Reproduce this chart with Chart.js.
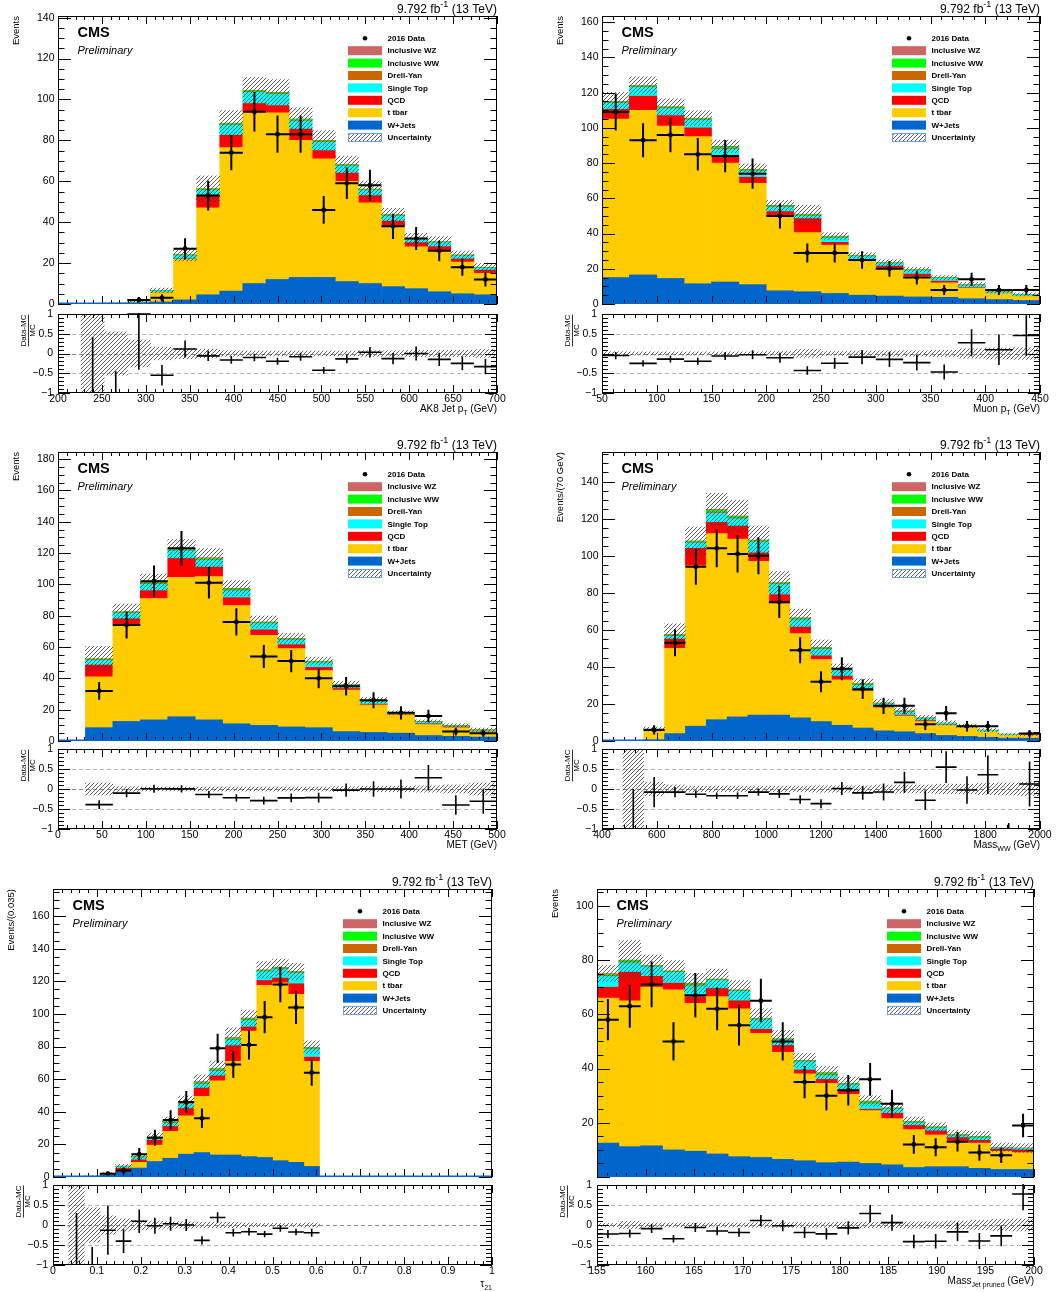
<!DOCTYPE html>
<html>
<head>
<meta charset="utf-8">
<title>CMS 2016 control distributions</title>
<script src="https://cdn.jsdelivr.net/npm/chart.js@4.4.1/dist/chart.umd.min.js"></script>
<style>
  html, body { margin: 0; padding: 0; background: #ffffff; }
  body { position: relative; width: 1057px; height: 1292px; overflow: hidden; }
  canvas { position: absolute; }
</style>
</head>
<body>
<script>
// ---------------------------------------------------------------------------
// Stacked MC components (events per bin), data counts and relative MC
// uncertainty for each distribution.
// ---------------------------------------------------------------------------

// AK8 jet pT: 19 bins, 200-700 GeV
const ak8WJets     = [0, 0, 0.05, 0.3, 1.0, 2.0, 4.5, 6.3, 10, 12, 13, 13, 11, 10, 8.5, 7.5, 6, 5, 4.5];
const ak8TTbar     = [0, 0.1, 0.3, 0.45, 4.6, 19.8, 42.5, 70.2, 84, 81.5, 67, 58, 49, 39.5, 29.5, 20.5, 20, 15.5, 10.5];
const ak8QCD       = [0, 0, 0, 0, 0.1, 0.2, 6, 6, 4, 3.5, 5.5, 4, 4, 3.5, 2.5, 2, 2, 1.5, 1.5];
const ak8SingleTop = [0, 0, 0.05, 0.15, 0.7, 1.6, 2.5, 5, 5.5, 5.5, 4, 4, 3.5, 2.5, 2.5, 1.5, 2, 1.5, 1];
const ak8DrellYan  = [0, 0, 0, 0, 0.05, 0.1, 0.2, 0.2, 0.3, 0.3, 0.3, 0.3, 0.2, 0.2, 0.2, 0.1, 0.1, 0.1, 0.1];
const ak8WW        = [0, 0, 0, 0.08, 0.2, 0.4, 0.5, 0.5, 0.5, 0.5, 0.5, 0.5, 0.4, 0.4, 0.4, 0.3, 0.3, 0.3, 0.3];
const ak8WZ        = [0, 0, 0, 0.02, 0.05, 0.1, 0.2, 0.2, 0.2, 0.2, 0.2, 0.2, 0.1, 0.1, 0.1, 0.1, 0.1, 0.1, 0.1];
const ak8Data      = [0, 0, 0, 2, 3, 27, 53, 74, 94, 83, 83, 46, 59, 58, 38, 32, 26, 18, 12];
const ak8Unc       = [0, 1.5, 0.55, 0.34, 0.16, 0.13, 0.11, 0.07, 0.06, 0.06, 0.06, 0.06, 0.06, 0.07, 0.07, 0.08, 0.08, 0.08, 0.1];
const ak8EmptyBinErr = {1: 1.42, 2: 0.55};

// Muon pT: 16 bins, 50-450 GeV
const muWJets     = [15, 16.5, 14.5, 11.5, 12.5, 11, 7.5, 7, 6, 5, 4.5, 4, 3.8, 3, 2.5, 2];
const muTTbar     = [90, 93.5, 86.5, 83.5, 67.5, 57.5, 42.5, 33.5, 27.5, 19.5, 15.5, 11.5, 8.2, 6, 3.5, 2.3];
const muQCD       = [5.5, 8, 6, 5, 4, 3.5, 2.5, 8, 1.5, 0.5, 1.5, 1.5, 1, 0.3, 0.1, 0.1];
const muSingleTop = [3.5, 5, 4, 4.5, 4, 3.5, 2.5, 1.5, 2.5, 2, 1.5, 2, 1.5, 1.2, 0.8, 0.8];
const muDrellYan  = [0.3, 0.3, 0.3, 0.3, 0.4, 0.3, 0.3, 0.3, 0.3, 0.1, 0.1, 0.1, 0.1, 0.1, 0.1, 0.05];
const muWW        = [0.5, 0.5, 0.5, 0.5, 0.8, 0.5, 0.5, 0.5, 0.5, 0.3, 0.3, 0.3, 0.3, 0.3, 0.2, 0.2];
const muWZ        = [0.2, 0.2, 0.2, 0.2, 0.3, 0.2, 0.2, 0.2, 0.2, 0.1, 0.1, 0.1, 0.1, 0.1, 0.1, 0.05];
const muData      = [109, 93, 96, 85, 84, 74, 50, 29, 29, 25, 20, 15, 8, 14, 8, 8];
const muUnc       = [0.045, 0.04, 0.04, 0.04, 0.04, 0.04, 0.05, 0.1, 0.05, 0.06, 0.07, 0.07, 0.08, 0.12, 0.14, 0.15];
const muEmptyBinErr = {};

// MET: 16 bins, 0-500 GeV
const metWJets     = [0, 8.5, 12.5, 13.5, 15.5, 13.5, 11, 10, 9, 8.5, 6, 5.5, 5, 3.5, 3, 2.5];
const metTTbar     = [0, 32.5, 61.5, 77.5, 89, 91.5, 75.5, 57.5, 50, 36.5, 26.5, 17.5, 11.7, 7, 5.5, 3.5];
const metQCD       = [0, 7.5, 4, 5, 12, 6, 5, 3.5, 2.5, 2, 1, 0.5, 0.3, 0.5, 0.5, 0.3];
const metSingleTop = [0, 3, 3.5, 4, 5, 4.5, 4.5, 4, 3, 3, 1.5, 1.5, 0.6, 1, 0.5, 0.5];
const metDrellYan  = [0, 0.3, 0.3, 0.4, 0.3, 0.4, 0.4, 0.3, 0.3, 0.3, 0.3, 0.3, 0.1, 0.1, 0.1, 0.1];
const metWW        = [0, 0.5, 0.5, 0.8, 0.5, 0.8, 0.8, 0.5, 0.5, 0.5, 0.5, 0.5, 0.2, 0.3, 0.3, 0.2];
const metWZ        = [0, 0.2, 0.2, 0.3, 0.2, 0.3, 0.3, 0.2, 0.2, 0.2, 0.2, 0.2, 0.1, 0.1, 0.1, 0.1];
const metData      = [0, 32, 74, 102, 123, 101, 76, 54, 51, 40, 35, 26, 18, 16, 6, 5];
const metUnc       = [0, 0.15, 0.06, 0.05, 0.05, 0.05, 0.05, 0.05, 0.05, 0.05, 0.06, 0.07, 0.07, 0.08, 0.1, 0.15];
const metEmptyBinErr = {};

// WW invariant mass: 21 bins, 400-2000 GeV
const mwwWJets     = [0, 0, 0.5, 4, 8, 11.5, 13, 14, 14, 12.5, 10.5, 8.5, 7, 5.5, 5, 4, 3, 2.5, 2, 1.5, 1.5];
const mwwTTbar     = [0, 0.05, 5, 46, 86.5, 100.5, 96, 83, 60, 45.5, 33.5, 24.5, 20, 12.5, 8.5, 6.5, 5.5, 5, 3, 1.5, 1.7];
const mwwQCD       = [0, 0, 0, 5, 9.5, 6, 7, 4.5, 5, 3.5, 2, 2, 0.5, 0.5, 0.5, 0.5, 0.2, 0.1, 0, 0, 0.3];
const mwwSingleTop = [0, 0, 0.6, 1.5, 3, 5, 4, 6, 5.5, 4, 3.5, 3, 2.5, 1.5, 1.5, 1, 0.8, 0.4, 0.7, 0.5, 0.05];
const mwwDrellYan  = [0, 0, 0.1, 0.3, 0.3, 0.5, 0.4, 0.3, 0.3, 0.3, 0.3, 0.1, 0.3, 0.1, 0.2, 0.1, 0.05, 0.05, 0.05, 0.05, 0];
const mwwWW        = [0, 0, 0.2, 0.5, 0.5, 1.1, 0.8, 0.5, 0.5, 0.5, 0.5, 0.3, 0.5, 0.3, 0.4, 0.3, 0.1, 0.1, 0.1, 0.1, 0];
const mwwWZ        = [0, 0, 0.1, 0.2, 0.2, 0.4, 0.3, 0.2, 0.2, 0.2, 0.2, 0.1, 0.2, 0.1, 0.2, 0.1, 0.05, 0.05, 0.05, 0.05, 0];
const mwwData      = [0, 0, 6, 53, 94, 104, 101, 100, 75, 49, 32, 39, 28, 19, 19, 9, 15, 8, 8, 0, 4];
const mwwUnc       = [0, 1.5, 0.17, 0.1, 0.07, 0.07, 0.07, 0.07, 0.07, 0.07, 0.08, 0.08, 0.08, 0.1, 0.1, 0.1, 0.12, 0.12, 0.14, 0.15, 0.17];
const mwwEmptyBinErr = {1: 1.0, 19: 0.15};

// tau21: 28 bins, 0-1
const tauWJets     = [0, 0, 0.4, 1, 3.5, 5.5, 9.5, 11.5, 14, 15, 13.5, 13.5, 12.5, 12, 10, 9, 6.5, 0, 0, 0, 0, 0, 0, 0, 0, 0, 0, 0];
const tauTTbar     = [0, 0.05, 0.2, 0.5, 0.5, 3.5, 10, 16.5, 23.5, 34.5, 45.5, 57.5, 77, 105.5, 109, 103, 64.5, 0, 0, 0, 0, 0, 0, 0, 0, 0, 0, 0];
const tauQCD       = [0, 0, 0, 0.5, 1.3, 1.5, 3, 3, 4.5, 5, 3, 9.5, 2.5, 3, 3, 6.5, 2.5, 0, 0, 0, 0, 0, 0, 0, 0, 0, 0, 0];
const tauSingleTop = [0, 0, 0, 0.2, 1, 1.5, 1.5, 2, 2.5, 2.5, 3, 3.5, 4, 5.5, 5.5, 6.5, 5, 0, 0, 0, 0, 0, 0, 0, 0, 0, 0, 0];
const tauDrellYan  = [0, 0, 0, 0, 0.1, 0.2, 0.1, 0.3, 0.4, 0.4, 0.4, 0.4, 0.4, 0.3, 0.3, 0.3, 0.3, 0, 0, 0, 0, 0, 0, 0, 0, 0, 0, 0];
const tauWW        = [0, 0, 0, 0.1, 0.2, 0.4, 0.3, 0.5, 0.8, 0.8, 0.8, 0.8, 0.8, 0.5, 0.5, 0.5, 0.5, 0, 0, 0, 0, 0, 0, 0, 0, 0, 0, 0];
const tauWZ        = [0, 0, 0, 0, 0.1, 0.2, 0.1, 0.2, 0.3, 0.3, 0.3, 0.3, 0.3, 0.2, 0.2, 0.2, 0.2, 0, 0, 0, 0, 0, 0, 0, 0, 0, 0, 0];
const tauData      = [0, 0, 0, 2, 4, 14, 24, 35, 46, 36, 79, 69, 81, 98, 118, 104, 64, 0, 0, 0, 0, 0, 0, 0, 0, 0, 0, 0];
const tauUnc       = [0, 1.5, 0.43, 0.23, 0.15, 0.12, 0.1, 0.08, 0.08, 0.07, 0.07, 0.07, 0.05, 0.04, 0.04, 0.04, 0.05, 0, 0, 0, 0, 0, 0, 0, 0, 0, 0, 0];
const tauEmptyBinErr = {1: 1.3, 2: 0.45};

// Pruned jet mass: 20 bins, 155-200 GeV
const mjWJets     = [12.5, 11.2, 11.5, 10, 9.5, 8.5, 7.5, 7.2, 6.5, 6, 5.3, 5.5, 5, 4.5, 3.5, 3.8, 3.8, 3.2, 2.8, 2.8];
const mjTTbar     = [53.5, 53.8, 58.5, 59, 54.5, 58, 54.5, 45.8, 39.5, 32, 29.2, 25, 19.5, 17, 14, 11.7, 9.2, 9.3, 6.7, 6.2];
const mjQCD       = [4, 10.5, 4, 2.5, 2.5, 3, 3, 1.5, 2.5, 1.5, 1.5, 1.5, 0.5, 2, 1.5, 1.5, 1.5, 1, 0.8, 1];
const mjSingleTop = [4, 3.5, 3.5, 4, 4, 3, 3.5, 3.5, 2, 3, 1.5, 2, 2, 1.5, 1, 1, 0.7, 1, 0.5, 0.5];
const mjDrellYan  = [0.3, 0.3, 0.1, 0.1, 0.3, 0.1, 0.1, 0.1, 0.1, 0.1, 0.2, 0.1, 0.2, 0.1, 0.1, 0.1, 0.1, 0.1, 0.05, 0.05];
const mjWW        = [0.5, 0.5, 0.3, 0.3, 0.5, 0.3, 0.3, 0.3, 0.3, 0.3, 0.6, 0.3, 0.6, 0.3, 0.3, 0.3, 0.3, 0.3, 0.1, 0.1];
const mjWZ        = [0.2, 0.2, 0.1, 0.1, 0.2, 0.1, 0.1, 0.1, 0.1, 0.1, 0.2, 0.1, 0.2, 0.1, 0.1, 0.1, 0.1, 0.1, 0.05, 0.05];
const mjData      = [58, 63, 71, 50, 67, 62, 56, 65, 50, 35, 30, 32, 36, 27, 12, 11, 13, 9, 8, 19];
const mjUnc       = [0.04, 0.09, 0.05, 0.05, 0.05, 0.05, 0.05, 0.06, 0.06, 0.06, 0.06, 0.07, 0.07, 0.07, 0.08, 0.08, 0.1, 0.12, 0.14, 0.15];
const mjEmptyBinErr = {};

// Process names and fill colours, bottom of the stack first
const componentNames  = ['W+Jets', 't tbar', 'QCD', 'Single Top', 'Drell-Yan', 'Inclusive WW', 'Inclusive WZ'];
const componentColors = ['#0066cc', '#ffcc00', '#ff0000', '#00ffff', '#cc6600', '#00ff00', '#cc6666'];
const dataLabel = '2016 Data';
const uncLabel = 'Uncertainty';
const lumiParts = [['9.792 fb', 0], ['-1', 2], [' (13 TeV)', 0]];
const ratioTickValues = [-1, -0.5, 0, 0.5, 1];

// ---------------------------------------------------------------------------
// Panel layout
// ---------------------------------------------------------------------------
const FONT = "'Liberation Sans', Arial, Helvetica, sans-serif";
Chart.defaults.font.family = FONT;
Chart.defaults.color = '#000';

const panels = [
  { key: 'ak8', frame: {l: 58, r: 497, t: 16, b: 304}, ratioFrame: {t: 314, b: 393},
    range: [200, 700], nBins: 19, yMax: 140.8, xMajor: 50, xMinor: 10,
    yTitle: 'Events', xTitle: [['AK8 Jet p', 0], ['T', 1], [' (GeV)', 0]], xTitleDy: 18.5, xTitleSize: 10,
    comp: [ak8WJets, ak8TTbar, ak8QCD, ak8SingleTop, ak8DrellYan, ak8WW, ak8WZ],
    data: ak8Data, unc: ak8Unc, emptyErr: ak8EmptyBinErr, hideZero: false },
  { key: 'mu', frame: {l: 602, r: 1040, t: 16, b: 304}, ratioFrame: {t: 314, b: 393},
    range: [50, 450], nBins: 16, yMax: 163.5, xMajor: 50, xMinor: 10,
    yTitle: 'Events', xTitle: [['Muon p', 0], ['T', 1], [' (GeV)', 0]], xTitleDy: 18.5, xTitleSize: 10,
    comp: [muWJets, muTTbar, muQCD, muSingleTop, muDrellYan, muWW, muWZ],
    data: muData, unc: muUnc, emptyErr: muEmptyBinErr, hideZero: false },
  { key: 'met', frame: {l: 58, r: 497, t: 452, b: 741}, ratioFrame: {t: 749, b: 829},
    range: [0, 500], nBins: 16, yMax: 184.5, xMajor: 50, xMinor: 10,
    yTitle: 'Events', xTitle: [['MET (GeV)', 0]], xTitleDy: 18.5, xTitleSize: 10,
    comp: [metWJets, metTTbar, metQCD, metSingleTop, metDrellYan, metWW, metWZ],
    data: metData, unc: metUnc, emptyErr: metEmptyBinErr, hideZero: false },
  { key: 'mww', frame: {l: 602, r: 1040, t: 452, b: 741}, ratioFrame: {t: 749, b: 829},
    range: [400, 2000], nBins: 21, yMax: 156.0, xMajor: 200, xMinor: 40,
    yTitle: 'Events/(70 GeV)', xTitle: [['Mass', 0], ['WW', 1], [' (GeV)', 0]], xTitleDy: 18.5, xTitleSize: 10,
    comp: [mwwWJets, mwwTTbar, mwwQCD, mwwSingleTop, mwwDrellYan, mwwWW, mwwWZ],
    data: mwwData, unc: mwwUnc, emptyErr: mwwEmptyBinErr, hideZero: false },
  { key: 'tau', frame: {l: 53, r: 492, t: 889, b: 1177}, ratioFrame: {t: 1185, b: 1265},
    range: [0, 1], nBins: 28, yMax: 176.6, xMajor: 0.1, xMinor: 0.02,
    yTitle: 'Events/(0.035)', xTitle: [['\u03c4', 0], ['21', 1]], xTitleDy: 22, xTitleSize: 10,
    comp: [tauWJets, tauTTbar, tauQCD, tauSingleTop, tauDrellYan, tauWW, tauWZ],
    data: tauData, unc: tauUnc, emptyErr: tauEmptyBinErr, hideZero: false },
  { key: 'mj', frame: {l: 597, r: 1034, t: 889, b: 1177}, ratioFrame: {t: 1185, b: 1265},
    range: [155, 200], nBins: 20, yMax: 106.2, xMajor: 5, xMinor: 1,
    yTitle: 'Events', xTitle: [['Mass', 0], ['Jet pruned', 1], [' (GeV)', 0]], xTitleDy: 18.5, xTitleSize: 10,
    comp: [mjWJets, mjTTbar, mjQCD, mjSingleTop, mjDrellYan, mjWW, mjWZ],
    data: mjData, unc: mjUnc, emptyErr: mjEmptyBinErr, hideZero: true }
];

const PAD_L = 62, PAD_R = 14;
const Y_AXIS_W = 40;       // room for the y tick labels, left of the frame
const X_AXIS_H = 16;       // room for the x tick labels, below the ratio frame
const MAIN_PAD_T = 20, MAIN_PAD_B = 12;
const RATIO_PAD_T = 12, RATIO_PAD_B = 34;

// ---------------------------------------------------------------------------
// Helpers
// ---------------------------------------------------------------------------
function derive(p) {
  const w = (p.range[1] - p.range[0]) / p.nBins;
  const edges = [], centers = [], totals = [];
  for (let i = 0; i <= p.nBins; i++) edges.push(p.range[0] + i * w);
  for (let i = 0; i < p.nBins; i++) {
    centers.push(p.range[0] + (i + 0.5) * w);
    totals.push(p.comp.reduce((s, arr) => s + arr[i], 0));
  }
  return {edges, centers, totals};
}

function tickList(min, max, minor, major) {
  const out = [];
  const n = Math.round((max - min) / minor);
  for (let k = 0; k <= n; k++) {
    const v = min + k * minor;
    if (v > max + 1e-9) break;
    const r = v / major;
    out.push([v, Math.abs(r - Math.round(r)) < 1e-6]);
  }
  return out;
}

function fmt(v) { return String(Math.round(v * 1000) / 1000); }

function makeCanvas(x, y, w, h) {
  const c = document.createElement('canvas');
  c.width = w; c.height = h;
  c.style.left = x + 'px'; c.style.top = y + 'px';
  c.style.width = w + 'px'; c.style.height = h + 'px';
  document.body.appendChild(c);
  return c;
}

function makeHatch(ctx) {
  const t = document.createElement('canvas');
  t.width = 4; t.height = 4;
  const g = t.getContext('2d');
  g.strokeStyle = 'rgba(60,60,60,0.9)';
  g.lineWidth = 0.9;
  g.beginPath();
  g.moveTo(0, 4); g.lineTo(4, 0);
  g.moveTo(-1, 1); g.lineTo(1, -1);
  g.moveTo(3, 5); g.lineTo(5, 3);
  g.stroke();
  return ctx.createPattern(t, 'repeat');
}

// text with optional sub/superscript pieces: [text, 0 normal | 1 sub | 2 sup]
function drawRich(ctx, parts, x, y, align, size) {
  const fontFor = k => (k ? Math.round(size * 0.72) : size) + 'px ' + FONT;
  let total = 0;
  for (const [t, k] of parts) { ctx.font = fontFor(k); total += ctx.measureText(t).width; }
  let cx = align === 'right' ? x - total : x;
  ctx.textAlign = 'left';
  ctx.textBaseline = 'alphabetic';
  for (const [t, k] of parts) {
    ctx.font = fontFor(k);
    const dy = k === 1 ? size * 0.3 : (k === 2 ? -size * 0.42 : 0);
    ctx.fillText(t, cx, y + dy);
    cx += ctx.measureText(t).width;
  }
}

function drawFrameTicks(chart, xTicks, yTicks, xLen, yLen) {
  const {ctx, chartArea: a} = chart;
  const sx = chart.scales.x, sy = chart.scales.y;
  ctx.save();
  ctx.strokeStyle = '#000';
  ctx.lineWidth = 1;
  ctx.beginPath();
  for (const [v, major] of xTicks) {
    const x = Math.round(sx.getPixelForValue(v)) + 0.5;
    const l = major ? xLen[0] : xLen[1];
    ctx.moveTo(x, a.bottom); ctx.lineTo(x, a.bottom - l);
    ctx.moveTo(x, a.top); ctx.lineTo(x, a.top + l);
  }
  for (const [v, major] of yTicks) {
    const y = Math.round(sy.getPixelForValue(v)) + 0.5;
    const l = major ? yLen[0] : yLen[1];
    ctx.moveTo(a.left, y); ctx.lineTo(a.left + l, y);
    ctx.moveTo(a.right, y); ctx.lineTo(a.right - l, y);
  }
  ctx.stroke();
  ctx.strokeRect(a.left + 0.5, a.top + 0.5, a.right - a.left - 1, a.bottom - a.top - 1);
  ctx.restore();
}

function drawLegend(ctx, a, hatch) {
  const x0 = a.left + 290, tx = a.left + 329.5;
  const rows = [[dataLabel, 'marker']];
  for (let k = componentNames.length - 1; k >= 0; k--) rows.push([componentNames[k], componentColors[k]]);
  rows.push([uncLabel, 'hatch']);
  ctx.save();
  ctx.font = 'bold 8px ' + FONT;
  ctx.textAlign = 'left';
  ctx.textBaseline = 'middle';
  rows.forEach(([label, kind], i) => {
    const yc = a.top + 22.3 + i * 12.4;
    if (kind === 'marker') {
      ctx.fillStyle = '#000';
      ctx.beginPath(); ctx.arc(x0 + 17, yc, 2.3, 0, 2 * Math.PI); ctx.fill();
    } else if (kind === 'hatch') {
      ctx.fillStyle = hatch;
      ctx.fillRect(x0, yc - 4.5, 34, 9);
      ctx.strokeStyle = '#6f9fd8'; ctx.lineWidth = 1;
      ctx.strokeRect(x0 + 0.5, yc - 4, 33, 8);
    } else {
      ctx.fillStyle = kind;
      ctx.fillRect(x0, yc - 4.5, 34, 9);
    }
    ctx.fillStyle = '#000';
    ctx.fillText(label, tx, yc + 0.5);
  });
  ctx.restore();
}

// ---------------------------------------------------------------------------
// Main (stacked histogram) panel
// ---------------------------------------------------------------------------
function buildMain(p, g) {
  const f = p.frame;
  const canvas = makeCanvas(f.l - PAD_L, f.t - MAIN_PAD_T, f.r - f.l + PAD_L + PAD_R, f.b - f.t + MAIN_PAD_T + MAIN_PAD_B);
  const ctx = canvas.getContext('2d');
  const hatch = makeHatch(ctx);
  const xTicks = tickList(p.range[0], p.range[1], p.xMinor, p.xMajor);
  const yTicks = tickList(0, p.yMax, 5, 20);
  const yMajors = yTicks.filter(t => t[1]).map(t => t[0]);
  const xMajors = xTicks.filter(t => t[1]).map(t => t[0]);

  const datasets = p.comp.map((arr, k) => ({
    type: 'bar',
    label: componentNames[k],
    data: g.centers.map((c, i) => ({x: c, y: arr[i] > 0 ? arr[i] : null})),
    backgroundColor: componentColors[k],
    borderWidth: 0,
    barPercentage: 1, categoryPercentage: 1,
    stack: 'mc', yAxisID: 'y', order: 2
  }));
  datasets.push({
    type: 'bar',
    label: uncLabel,
    data: g.centers.map((c, i) => ({x: c, y: (g.totals[i] > 0 && p.unc[i] > 0)
      ? [g.totals[i] * (1 - p.unc[i]), g.totals[i] * (1 + p.unc[i])] : null})),
    backgroundColor: hatch,
    borderWidth: 0,
    barPercentage: 1, categoryPercentage: 1,
    stack: 'mc', yAxisID: 'yu', order: 1
  });
  datasets.push({
    type: 'line',
    label: dataLabel,
    data: g.centers.map((c, i) => ({x: c, y: p.data[i]})).filter(pt => pt.y > 0),
    showLine: false,
    pointRadius: 2.4, pointHoverRadius: 2.4,
    pointBackgroundColor: '#000', pointBorderWidth: 0,
    yAxisID: 'yu', order: 0
  });

  const decor = {
    id: 'mainDecor',
    afterDatasetsDraw(chart) {
      const {ctx, chartArea: a} = chart;
      const sx = chart.scales.x, sy = chart.scales.yu;
      ctx.save();
      ctx.beginPath(); ctx.rect(a.left, a.top, a.right - a.left, a.bottom - a.top); ctx.clip();
      ctx.strokeStyle = '#000'; ctx.lineWidth = 2;
      p.data.forEach((d, i) => {
        if (!(d > 0)) return;
        const e = Math.sqrt(d);
        const y = sy.getPixelForValue(d);
        const xc = sx.getPixelForValue(g.centers[i]);
        ctx.beginPath();
        ctx.moveTo(sx.getPixelForValue(g.edges[i]), y);
        ctx.lineTo(sx.getPixelForValue(g.edges[i + 1]), y);
        ctx.moveTo(xc, sy.getPixelForValue(d - e));
        ctx.lineTo(xc, sy.getPixelForValue(d + e));
        ctx.stroke();
      });
      ctx.restore();
    },
    afterDraw(chart) {
      const {ctx, chartArea: a} = chart;
      drawFrameTicks(chart, xTicks, yTicks, [8, 4], [13, 6.5]);
      // W+Jets outline along the empty baseline
      ctx.save();
      ctx.strokeStyle = componentColors[0]; ctx.lineWidth = 1.5;
      ctx.beginPath(); ctx.moveTo(a.left + 1, a.bottom - 0.75); ctx.lineTo(a.right - 1, a.bottom - 0.75); ctx.stroke();
      ctx.restore();
      drawLegend(ctx, a, hatch);
      ctx.save();
      ctx.fillStyle = '#000';
      ctx.textAlign = 'left'; ctx.textBaseline = 'alphabetic';
      ctx.font = 'bold 14.5px ' + FONT;
      ctx.fillText('CMS', a.left + 19.5, a.top + 21.3);
      ctx.font = 'italic 11px ' + FONT;
      ctx.fillText('Preliminary', a.left + 19.5, a.top + 37.7);
      drawRich(ctx, lumiParts, a.right, a.top - 3.5, 'right', 12);
      ctx.translate(a.left - 42, a.top);
      ctx.rotate(-Math.PI / 2);
      ctx.font = '9.5px ' + FONT;
      ctx.textAlign = 'right'; ctx.textBaseline = 'middle';
      ctx.fillText(p.yTitle, 0, 0);
      ctx.restore();
    }
  };

  new Chart(canvas, {
    type: 'bar',
    data: {datasets},
    options: {
      responsive: false, animation: false, devicePixelRatio: 1, events: [],
      layout: {autoPadding: false, padding: {left: PAD_L - Y_AXIS_W, right: PAD_R, top: MAIN_PAD_T, bottom: MAIN_PAD_B}},
      plugins: {legend: {display: false}, tooltip: {enabled: false}},
      scales: {
        x: {type: 'linear', min: p.range[0], max: p.range[1], offset: false, stacked: true,
            grid: {display: false, drawTicks: false}, border: {display: false},
            ticks: {display: false},
            afterBuildTicks: s => { s.ticks = xMajors.map(v => ({value: v})); },
            afterFit: s => { s.height = 0; }},
        y: {type: 'linear', min: 0, max: p.yMax, stacked: true,
            grid: {display: false, drawTicks: false}, border: {display: false},
            ticks: {font: {size: 10.5}, color: '#000', padding: 3.5, autoSkip: false,
                    callback: v => (v === 0 && p.hideZero) ? '' : fmt(v)},
            afterBuildTicks: s => { s.ticks = yMajors.map(v => ({value: v})); },
            afterFit: s => { s.width = Y_AXIS_W; }},
        yu: {type: 'linear', min: 0, max: p.yMax, stacked: false, display: false}
      }
    },
    plugins: [decor]
  });
}

// ---------------------------------------------------------------------------
// Ratio (Data-MC)/MC panel
// ---------------------------------------------------------------------------
function buildRatio(p, g) {
  const f = p.frame, rf = p.ratioFrame;
  const canvas = makeCanvas(f.l - PAD_L, rf.t - RATIO_PAD_T, f.r - f.l + PAD_L + PAD_R, rf.b - rf.t + RATIO_PAD_T + RATIO_PAD_B);
  const ctx = canvas.getContext('2d');
  const hatch = makeHatch(ctx);
  const xTicks = tickList(p.range[0], p.range[1], p.xMinor, p.xMajor);
  const yTicks = tickList(-1, 1, 0.1, 0.5);
  const xMajors = xTicks.filter(t => t[1]).map(t => t[0]);

  const datasets = [{
    type: 'bar',
    label: uncLabel,
    data: g.centers.map((c, i) => ({x: c, y: (g.totals[i] > 0 && p.unc[i] > 0) ? [-p.unc[i], p.unc[i]] : null})),
    backgroundColor: hatch,
    borderWidth: 0,
    barPercentage: 1, categoryPercentage: 1
  }];

  const decor = {
    id: 'ratioDecor',
    beforeDatasetsDraw(chart) {
      const {ctx, chartArea: a} = chart;
      const sy = chart.scales.y;
      ctx.save();
      ctx.lineWidth = 1;
      ctx.setLineDash([4, 3]);
      for (const [v, col] of [[0.5, '#b4b4b4'], [0, '#8c8c8c'], [-0.5, '#b4b4b4']]) {
        const y = Math.round(sy.getPixelForValue(v)) + 0.5;
        ctx.strokeStyle = col;
        ctx.beginPath(); ctx.moveTo(a.left, y); ctx.lineTo(a.right, y); ctx.stroke();
      }
      ctx.restore();
    },
    afterDatasetsDraw(chart) {
      const {ctx, chartArea: a} = chart;
      const sx = chart.scales.x, sy = chart.scales.y;
      ctx.save();
      ctx.beginPath(); ctx.rect(a.left, a.top - 1, a.right - a.left, a.bottom - a.top + 2); ctx.clip();
      ctx.strokeStyle = '#000'; ctx.lineWidth = 1.6;
      p.data.forEach((d, i) => {
        const mc = g.totals[i];
        if (!(mc > 0)) return;
        const xc = sx.getPixelForValue(g.centers[i]);
        ctx.beginPath();
        if (d > 0) {
          const r = d / mc - 1, e = Math.sqrt(d) / mc;
          const y = sy.getPixelForValue(r);
          ctx.moveTo(sx.getPixelForValue(g.edges[i]), y);
          ctx.lineTo(sx.getPixelForValue(g.edges[i + 1]), y);
          ctx.moveTo(xc, sy.getPixelForValue(r - e));
          ctx.lineTo(xc, sy.getPixelForValue(r + e));
        } else if (p.emptyErr[i] !== undefined) {
          ctx.moveTo(xc, sy.getPixelForValue(-1));
          ctx.lineTo(xc, sy.getPixelForValue(-1 + p.emptyErr[i]));
        }
        ctx.stroke();
      });
      ctx.restore();
    },
    afterDraw(chart) {
      const {ctx, chartArea: a} = chart;
      drawFrameTicks(chart, xTicks, yTicks, [8, 4], [12, 6]);
      ctx.save();
      ctx.fillStyle = '#000';
      drawRich(ctx, p.xTitle, a.right, a.bottom + p.xTitleDy, 'right', p.xTitleSize);
      // (Data-MC)/MC fraction as the y title
      ctx.translate(a.left - 30, a.top);
      ctx.rotate(-Math.PI / 2);
      ctx.font = '8px ' + FONT;
      ctx.textAlign = 'center'; ctx.textBaseline = 'middle';
      const wNum = ctx.measureText('Data-MC').width;
      const cx = -wNum / 2 - 0.5;
      ctx.fillText('Data-MC', cx, -4);
      ctx.fillText('MC', cx, 4.5);
      ctx.strokeStyle = '#000'; ctx.lineWidth = 0.8;
      ctx.beginPath(); ctx.moveTo(cx - wNum / 2, 0.5); ctx.lineTo(cx + wNum / 2, 0.5); ctx.stroke();
      ctx.restore();
    }
  };

  new Chart(canvas, {
    type: 'bar',
    data: {datasets},
    options: {
      responsive: false, animation: false, devicePixelRatio: 1, events: [],
      layout: {autoPadding: false, padding: {left: PAD_L - Y_AXIS_W, right: PAD_R, top: RATIO_PAD_T, bottom: RATIO_PAD_B - X_AXIS_H}},
      plugins: {legend: {display: false}, tooltip: {enabled: false}},
      scales: {
        x: {type: 'linear', min: p.range[0], max: p.range[1], offset: false,
            grid: {display: false, drawTicks: false}, border: {display: false},
            ticks: {font: {size: 10.5}, color: '#000', padding: 0, autoSkip: false, maxRotation: 0,
                    callback: v => fmt(v)},
            afterBuildTicks: s => { s.ticks = xMajors.map(v => ({value: v})); },
            afterFit: s => { s.height = X_AXIS_H; }},
        y: {type: 'linear', min: -1, max: 1,
            grid: {display: false, drawTicks: false}, border: {display: false},
            ticks: {font: {size: 10.5}, color: '#000', padding: 5, autoSkip: false,
                    callback: v => v < 0 ? '\u2212' + fmt(-v) : fmt(v)},
            afterBuildTicks: s => { s.ticks = ratioTickValues.map(v => ({value: v})); },
            afterFit: s => { s.width = Y_AXIS_W; }}
      }
    },
    plugins: [decor]
  });
}

for (const p of panels) {
  const g = derive(p);
  buildMain(p, g);
  buildRatio(p, g);
}
</script>
</body>
</html>
